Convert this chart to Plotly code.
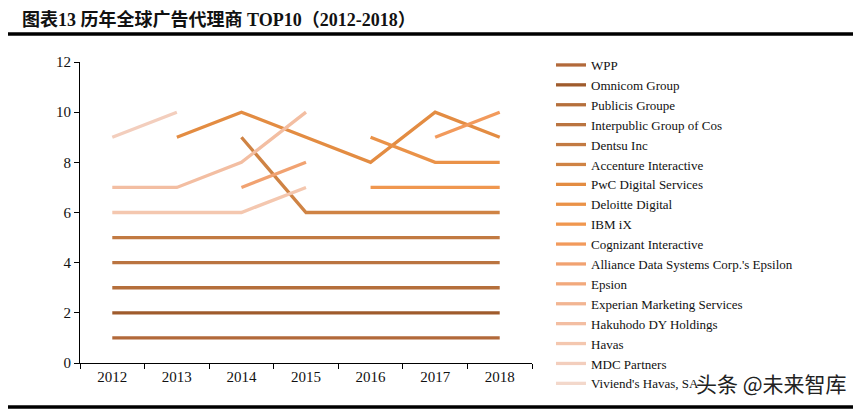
import plotly.graph_objects as go

years = ["2012", "2013", "2014", "2015", "2016", "2017", "2018"]

names = [
    "WPP", "Omnicom Group", "Publicis Groupe", "Interpublic Group of Cos",
    "Dentsu Inc", "Accenture Interactive", "PwC Digital Services",
    "Deloitte Digital", "IBM iX", "Cognizant Interactive",
    "Alliance Data Systems Corp.'s Epsilon", "Epsion",
    "Experian Marketing Services", "Hakuhodo DY Holdings", "Havas",
    "MDC Partners", "Viviend's Havas, SA",
]

N = None
wpp = [1, 1, 1, 1, 1, 1, 1]
omnicom = [2, 2, 2, 2, 2, 2, 2]
publicis = [3, 3, 3, 3, 3, 3, 3]
interpublic = [4, 4, 4, 4, 4, 4, 4]
dentsu = [5, 5, 5, 5, 5, 5, 5]
accenture = [N, N, 9, 6, 6, 6, 6]
pwc = [N, 9, 10, 9, 8, 10, 9]
deloitte = [N, N, N, N, 9, 8, 8]
ibm = [N, N, N, N, 7, 7, 7]
cognizant = [N, N, N, N, N, 9, 10]
alliance = [N, N, 7, 8, N, N, N]
epsion = [8, N, N, N, N, N, N]
experian = [10, N, N, N, N, N, N]
hakuhodo = [7, 7, 8, 10, N, N, N]
havas = [6, 6, 6, 7, N, N, N]
mdc = [9, 10, N, N, 10, N, N]
vivendi = [N, 8, N, N, N, N, N]

series = [wpp, omnicom, publicis, interpublic, dentsu, accenture, pwc,
          deloitte, ibm, cognizant, alliance, epsion, experian, hakuhodo,
          havas, mdc, vivendi]

colors = [
    "#B2693A", "#9F5B2C", "#B56F3B", "#BA7440", "#C27A42", "#CF8344",
    "#E38C42", "#EA9248", "#F0974F", "#F29A5C", "#F1A271", "#F2A97C",
    "#F2B592", "#F3BEA2", "#F4C7AF", "#F3CEBD", "#F3D8CB",
]

fig = go.Figure()
for nm, vals, col in zip(names, series, colors):
    fig.add_trace(go.Scatter(
        x=years, y=vals, name=nm, mode="lines",
        line=dict(color=col, width=3.3), connectgaps=False,
    ))

serif = "Liberation Serif"

# plot area in figure pixels
L, R, T, B = 72, 524, 54, 355
PW, PH = R - L, B - T


def px(x):
    return (x - L) / PW


def py(y):
    return (B - y) / PH


fig.update_layout(
    width=862, height=411,
    margin=dict(l=L, r=862 - R, t=T, b=411 - B, autoexpand=False),
    paper_bgcolor="white", plot_bgcolor="white",
    showlegend=True,
    legend=dict(
        xref="container", x=543 / 862, xanchor="left",
        yref="container", y=1 - 42 / 411, yanchor="top",
        maxheight=1,
        font=dict(family=serif, size=13, color="#111"),
        tracegroupgap=0, itemwidth=30, bgcolor="rgba(0,0,0,0)",
    ),
    xaxis=dict(
        type="category", range=[-0.5, 6.5], showgrid=False,
        showline=True, linecolor="black", linewidth=1,
        ticks="outside", tickson="boundaries", ticklen=5, tickcolor="black",
        tickfont=dict(family=serif, size=15, color="#111"),
        zeroline=False,
    ),
    yaxis=dict(
        range=[0, 12], dtick=2, showgrid=False,
        showline=True, linecolor="black", linewidth=1,
        ticks="outside", ticklen=5, tickcolor="black",
        tickfont=dict(family=serif, size=15, color="#111"),
        zeroline=False,
    ),
    shapes=[
        dict(type="line", xref="paper", yref="paper",
             x0=px(0), x1=px(845), y0=py(26), y1=py(26),
             line=dict(color="black", width=3.5)),
        dict(type="line", xref="paper", yref="paper",
             x0=px(0), x1=px(845), y0=py(399), y1=py(399),
             line=dict(color="black", width=3.5)),
    ],
    annotations=[
        dict(text="<b>图表13 历年全球广告代理商 TOP10（2012-2018）</b>",
             xref="paper", yref="paper", x=px(12), y=py(11),
             xanchor="left", yanchor="middle", showarrow=False,
             font=dict(family="Liberation Serif, Noto Sans CJK SC", size=18, color="#111")),
        dict(text="头条 @未来智库",
             xref="paper", yref="paper", x=px(841), y=py(375),
             xanchor="right", yanchor="middle", showarrow=False,
             font=dict(family="Noto Sans CJK SC", size=21, color="#222")),
    ],
)

fig.write_html("out.html")
